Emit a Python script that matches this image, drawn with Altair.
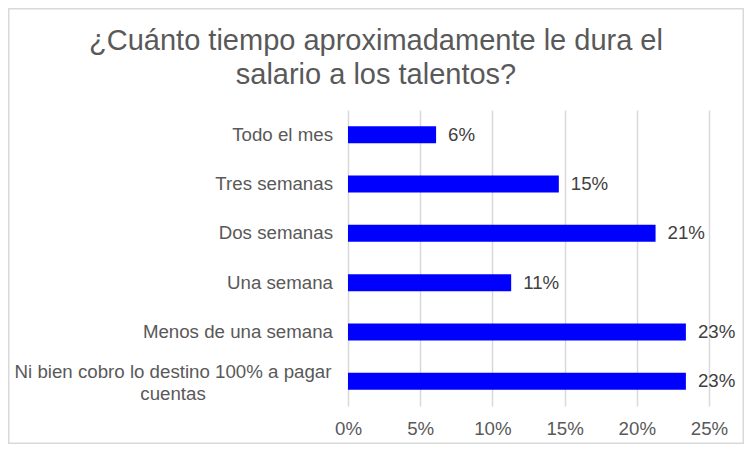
import altair as alt
import pandas as pd

categories = [
    "Todo el mes",
    "Tres semanas",
    "Dos semanas",
    "Una semana",
    "Menos de una semana",
    "Ni bien cobro lo destino 100% a pagar\ncuentas",
]
values = [0.061, 0.146, 0.213, 0.113, 0.234, 0.234]
tick_values = [0, 0.05, 0.10, 0.15, 0.20, 0.25]
title_lines = ["¿Cuánto tiempo aproximadamente le dura el", "salario a los talentos?"]

df = pd.DataFrame({"categoria": categories, "valor": values})
df["multilinea"] = df["categoria"].str.contains("\n")

FONT = "Liberation Sans"
FS = 18.7

y_enc = alt.Y(
    "categoria:N",
    sort=categories,
    scale=alt.Scale(paddingInner=0.655, paddingOuter=0.3275),
    axis=None,
)
x_enc = alt.X(
    "valor:Q",
    scale=alt.Scale(domain=[0, 0.25], nice=False),
    axis=alt.Axis(
        format=".0%",
        values=tick_values,
        title=None,
        grid=True,
        gridColor="#d9d9d9",
        gridWidth=1.5,
        domain=False,
        ticks=False,
        tickSize=0,
        labelPadding=13,
        labelFlush=False,
        labelFont=FONT,
        labelFontSize=FS,
        labelColor="#595959",
    ),
)

base = alt.Chart(df)

bars = base.mark_bar(color="#0000FF").encode(x=x_enc, y=y_enc)

bar_labels = base.mark_text(
    align="left", baseline="middle", dx=12, font=FONT, fontSize=FS, color="#404040"
).encode(x="valor:Q", y=y_enc, text=alt.Text("valor:Q", format=".0%"))

cat_single = base.transform_filter("!datum.multilinea").mark_text(
    align="right", baseline="middle", font=FONT, fontSize=FS, color="#595959"
).encode(x=alt.value(-15), y=y_enc, text="categoria:N")

cat_multi = base.transform_filter("datum.multilinea").mark_text(
    align="center", baseline="middle", font=FONT, fontSize=FS, color="#595959",
    lineBreak="\n", lineHeight=22, dy=-9,
).encode(x=alt.value(-175), y=y_enc, text="categoria:N")

border = alt.Chart(pd.DataFrame({"k": [0]})).mark_rect(
    fill=None, stroke="#d9d9d9", strokeWidth=1.5
).encode(
    x=alt.value(-339.25), x2=alt.value(395.25),
    y=alt.value(-101.25), y2=alt.value(333.25),
)

chart = alt.layer(border, bars, bar_labels, cat_single, cat_multi).properties(
    width=361,
    height=296,
    padding={"left": 340, "top": 102, "right": 35, "bottom": 38},
    autosize="none",
    background="white",
    title=alt.Title(
        title_lines,
        anchor="middle",
        dx=-152.5,
        offset=-111,
        baseline="bottom",
        lineHeight=34,
        font=FONT,
        fontSize=29,
        fontWeight="normal",
        color="#595959",
    ),
).configure_view(stroke=None)

chart.save("out.html", embed_options={"renderer": "svg", "actions": False})
